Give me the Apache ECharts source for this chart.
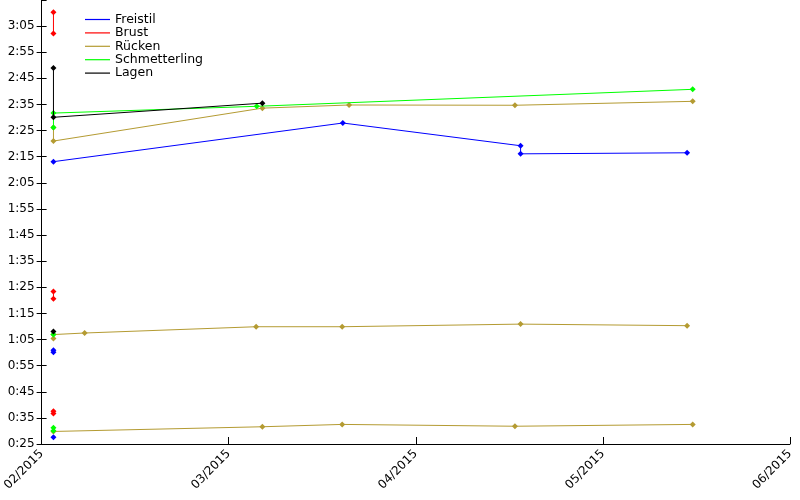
<!DOCTYPE html>
<html>
<head>
<meta charset="utf-8">
<script src="https://cdn.jsdelivr.net/npm/echarts@6/dist/echarts.min.js"></script>
<style>html,body{margin:0;padding:0;background:#fff}#c{width:800px;height:500px}</style>
</head>
<body>
<div id="c"></div>
<script>
// x = days since 2015-02-01, y = seconds
const legendNames = ['Freistil', 'Brust', 'Rücken', 'Schmetterling', 'Lagen'];
const colors = ['#0000ff', '#ff0000', '#b49b32', '#00ff00', '#000000'];

const freistil200Days = [1.9, 48.3, 76.8, 76.8, 103.5];
const freistil200Times = [133.1, 147.9, 139.2, 136.1, 136.5];
const freistil100Days = [1.9, 1.9];
const freistil100Times = [60.9, 60.1];
const freistil50Days = [1.9];
const freistil50Times = [27.6];

const brust200Days = [1.9, 1.9];
const brust200Times = [190.3, 182.2];
const brust100Days = [1.9, 1.9];
const brust100Times = [83.4, 80.6];
const brust50Days = [1.9, 1.9];
const brust50Times = [37.5, 36.7];

const ruecken200Days = [1.9, 1.9, 35.4, 49.3, 75.9, 104.4];
const ruecken200Times = [146.2, 141.0, 153.6, 154.8, 154.7, 156.2];
const ruecken100Days = [1.9, 1.9, 6.9, 34.4, 48.2, 76.8, 103.5];
const ruecken100Times = [65.4, 66.9, 67.5, 69.9, 69.9, 70.9, 70.3];
const ruecken50Days = [1.9, 35.4, 48.2, 75.9, 104.4];
const ruecken50Times = [29.8, 31.6, 32.5, 31.8, 32.5];

const schmetterling200Days = [1.9, 1.9, 34.5, 104.4];
const schmetterling200Times = [146.2, 151.7, 154.3, 160.8];
const schmetterling100Days = [1.9];
const schmetterling100Times = [66.9];
const schmetterling50Days = [1.9, 1.9];
const schmetterling50Times = [31.2, 30.1];

const lagen200Days = [1.9, 1.9, 35.4];
const lagen200Times = [169.0, 150.1, 155.5];
const lagen100Days = [1.9];
const lagen100Times = [68.1];

const yTickMin = 25, yTickMax = 195, yTickStep = 10;
const xTickMin = 0, xTickMax = 120, xTickStep = 30;

function pts(d, t) { return d.map((v, i) => [v, t[i]]); }
const groups = [
  [0, [[freistil200Days, freistil200Times], [freistil100Days, freistil100Times], [freistil50Days, freistil50Times]]],
  [1, [[brust200Days, brust200Times], [brust100Days, brust100Times], [brust50Days, brust50Times]]],
  [2, [[ruecken200Days, ruecken200Times], [ruecken100Days, ruecken100Times], [ruecken50Days, ruecken50Times]]],
  [3, [[schmetterling200Days, schmetterling200Times], [schmetterling100Days, schmetterling100Times], [schmetterling50Days, schmetterling50Times]]],
  [4, [[lagen200Days, lagen200Times], [lagen100Days, lagen100Times]]]
];
const series = [];
groups.forEach(([gi, sets]) => {
  sets.forEach(([d, t]) => {
    series.push({
      name: legendNames[gi], type: 'line', data: pts(d, t),
      color: colors[gi], symbol: 'diamond', symbolSize: 6, showSymbol: true,
      lineStyle: { width: 1, color: colors[gi] }, itemStyle: { color: colors[gi] },
      animation: false, z: 2 + gi
    });
  });
});

const FONT = 'DejaVu Sans';
function fmtTime(v) { const m = Math.floor(v / 60), s = Math.round(v % 60); return m + ':' + (s < 10 ? '0' : '') + s; }
function fmtMonth(v) {
  const d = new Date(Date.UTC(2015, 1, 1) + v * 86400000);
  const m = d.getUTCMonth() + 1;
  return (m < 10 ? '0' : '') + m + '/' + d.getUTCFullYear();
}

const chart = echarts.init(document.getElementById('c'), null, { renderer: 'canvas' });
chart.setOption({
  backgroundColor: '#ffffff',
  animation: false,
  grid: { left: 40, right: 10, top: 0, bottom: 56, containLabel: false },
  legend: {
    orient: 'vertical', left: 80, top: 8, itemWidth: 25, itemHeight: 1.2, itemGap: 0.4,
    icon: 'rect',
    data: legendNames.map((n, i) => ({
      name: n, icon: 'rect',
      itemStyle: { color: colors[i], borderWidth: 0, opacity: 1 }
    })),
    textStyle: { fontFamily: FONT, fontSize: 12.5, color: '#000' }
  },
  xAxis: {
    type: 'value', min: xTickMin, max: xTickMax, interval: xTickStep,
    axisLine: { show: true, onZero: false, lineStyle: { color: '#000', width: 1 } },
    axisTick: { show: true, inside: true, length: 7, lineStyle: { color: '#000' } },
    axisLabel: { rotate: 45, margin: 8, fontFamily: FONT, fontSize: 12, color: '#000', formatter: fmtMonth },
    splitLine: { show: false }
  },
  yAxis: [{
    type: 'value', min: yTickMin, max: yTickMax, interval: yTickStep,
    axisLine: { show: true, lineStyle: { color: '#000', width: 1 } },
    axisTick: { show: true, length: 5, lineStyle: { color: '#000' } },
    axisLabel: { margin: 7, fontFamily: FONT, fontSize: 12, color: '#000', formatter: fmtTime, showMaxLabel: false },
    splitLine: { show: false }
  }, {
    type: 'value', position: 'left', min: yTickMin, max: yTickMax, interval: yTickStep,
    axisLine: { show: false },
    axisTick: { show: true, inside: true, length: 5, lineStyle: { color: '#000' } },
    axisLabel: { show: false }, splitLine: { show: false }
  }],
  series: series
});
</script>
</body>
</html>
